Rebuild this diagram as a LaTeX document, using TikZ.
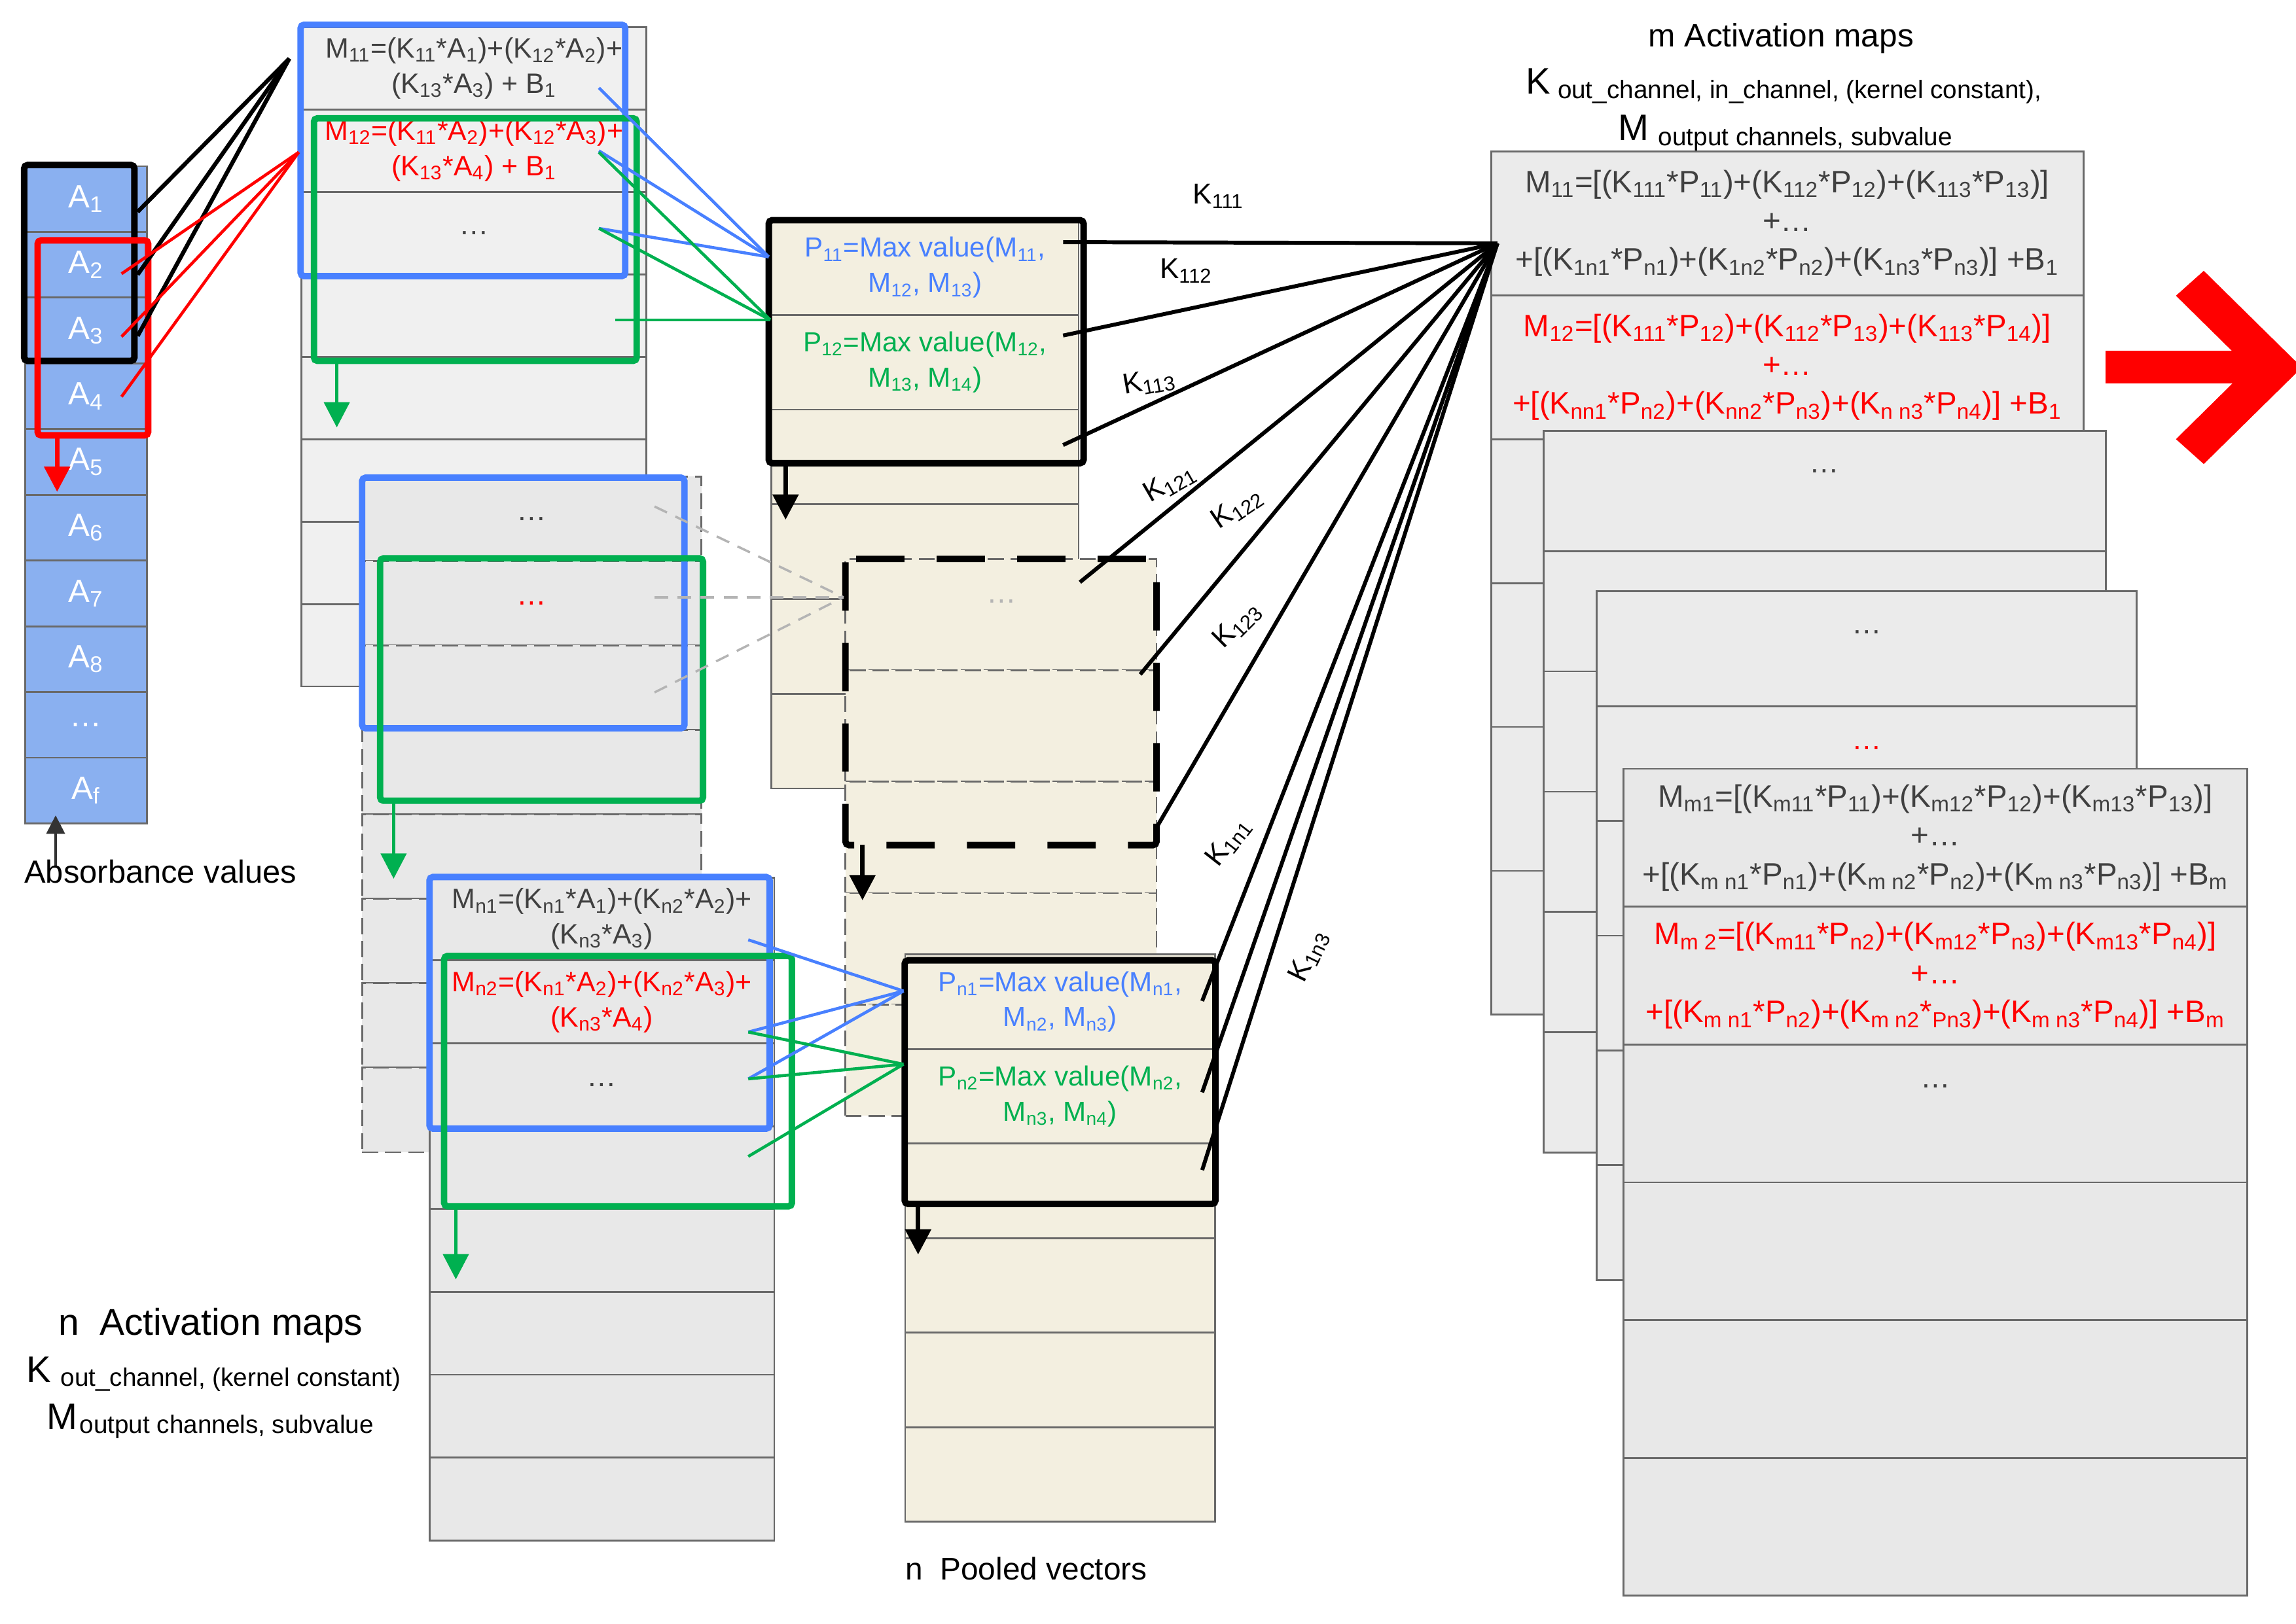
\documentclass[tikz,border=0pt]{standalone}
\usepackage{fontspec}
\setmainfont{Liberation Sans}
\usetikzlibrary{arrows.meta}
\definecolor{mapblue}{RGB}{72,128,255}
\definecolor{mapgreen}{RGB}{0,176,80}
\definecolor{mapred}{RGB}{255,0,0}
\definecolor{absfill}{RGB}{138,176,240}
\definecolor{cellline}{RGB}{105,105,105}
\definecolor{mapfill}{RGB}{240,240,240}
\definecolor{mapfilld}{RGB}{232,232,232}
\definecolor{rfill}{RGB}{235,235,235}
\definecolor{poolfill}{RGB}{243,239,224}
\definecolor{txtgray}{RGB}{64,64,64}
\definecolor{dashgray}{RGB}{180,180,180}
\newcommand{\px}{0.02237cm}
\newcommand{\lo}[1]{\textsubscript{#1}}

\begin{document}
\begin{tikzpicture}[x=\px,y=-\px,
    cell/.style 2 args={draw=cellline,line width=0.8pt,inner sep=0pt,
      minimum width=#1*\px,minimum height=#2*\px},
    dcell/.style 2 args={cell={#1}{#2},dash pattern=on 7pt off 3pt},
    abscell/.style={cell={83.3}{44.9},fill=absfill,text=white,
      font=\fontsize{14}{16}\selectfont},
    hibox/.style={line width=2.8pt,rounded corners=1.5pt},
    fan/.style={line width=1.3pt},
    kline/.style={line width=1.7pt},
    down/.style={-{Triangle[length=11pt,width=11pt]},line width=2pt},
    ftxt/.style={align=center,text=txtgray,inner sep=0pt,
      font=\fontsize{12.2}{15.3}\selectfont},
    ptxt/.style={align=center,inner sep=0pt,font=\fontsize{12}{15.3}\selectfont},
    rtxt/.style={align=center,text=txtgray,inner sep=0pt,
      font=\fontsize{13.5}{16.9}\selectfont},
    klab/.style={inner sep=0pt,font=\fontsize{12.5}{15}\selectfont},
    dots/.style={inner sep=0pt,font=\fontsize{13}{15}\selectfont,text=txtgray},
    legend/.style={anchor=base west,inner sep=0pt}]
\useasboundingbox (0,0) rectangle (1568,1109);

\foreach \i in {1,...,8}
  \node[abscell] (abs\i) at (58.75,{113.5+44.9*(\i-0.5)}) {A\lo{\i}};
\node[abscell] (absdots) at (58.75,{113.5+44.9*8.5}) {\dots};
\node[abscell] (absf) at (58.75,{113.5+44.9*9.5}) {A\lo{f}};

\foreach \i in {1,...,8}
  \node[cell={235.5}{56.3},fill=mapfill] (ma\i) at (323.75,{18.5+56.3*(\i-0.5)}) {};
\foreach \i in {1,...,8}
  \node[dcell={231.7}{57.7},fill=mapfilld] (mb\i) at (363.15,{325.5+57.7*(\i-0.5)}) {};
\foreach \i in {1,...,8}
  \node[cell={235.5}{56.6},fill=mapfilld] (mn\i) at (411.05,{599.5+56.6*(\i-0.5)}) {};

\foreach \i in {1,...,6}
  \node[cell={209.8}{64.7},fill=poolfill] (pa\i) at (631.7,{150.4+64.7*(\i-0.5)}) {};
\foreach \i in {1,...,5}
  \node[dcell={212.4}{76.1},fill=poolfill] (pb\i) at (683.6,{381.8+76.1*(\i-0.5)}) {};
\foreach \i in {1,...,6}
  \node[cell={211.7}{64.6},fill=poolfill] (pn\i) at (724.05,{652+64.6*(\i-0.5)}) {};

\foreach \i in {1,...,6}
  \node[cell={404.4}{98.3},fill=rfill] (ra\i) at (1220.6,{103.4+98.3*(\i-0.5)}) {};
\foreach \i in {1,...,6}
  \node[cell={384}{82.2},fill=rfill] (rb\i) at (1246.2,{294.2+82.2*(\i-0.5)}) {};
\foreach \i in {1,...,6}
  \node[cell={368.6}{78.4},fill=rfill] (rc\i) at (1274.7,{404+78.4*(\i-0.5)}) {};
\foreach \i in {1,...,6}
  \node[cell={425.9}{94.15},fill=mapfilld] (rd\i) at (1321.75,{525.2+94.15*(\i-0.5)}) {};

\node[ftxt] (m11) at (ma1)
  {M\lo{11}=(K\lo{11}*A\lo{1})+(K\lo{12}*A\lo{2})+\\(K\lo{13}*A\lo{3}) + B\lo{1}};
\node[ftxt,text=mapred] (m12) at (ma2)
  {M\lo{12}=(K\lo{11}*A\lo{2})+(K\lo{12}*A\lo{3})+\\(K\lo{13}*A\lo{4}) + B\lo{1}};
\node[dots] (madots) at (ma3) {\dots};
\node[dots] (mbdots) at (mb1) {\dots};
\node[dots,text=mapred] (mbred) at (mb2) {\dots};
\node[ftxt] (mn1txt) at (mn1)
  {M\lo{n1}=(K\lo{n1}*A\lo{1})+(K\lo{n2}*A\lo{2})+\\(K\lo{n3}*A\lo{3})};
\node[ftxt,text=mapred] (mn2txt) at (mn2)
  {M\lo{n2}=(K\lo{n1}*A\lo{2})+(K\lo{n2}*A\lo{3})+\\(K\lo{n3}*A\lo{4})};
\node[dots] (mndots) at (mn3) {\dots};

\node[ptxt,text=mapblue] (p11) at (pa1) {P\lo{11}=Max value(M\lo{11},\\M\lo{12}, M\lo{13})};
\node[ptxt,text=mapgreen] (p12) at (pa2) {P\lo{12}=Max value(M\lo{12},\\M\lo{13}, M\lo{14})};
\node[dots,text=dashgray] (pbdots) at (684,411) {\dots};
\node[ptxt,text=mapblue] (pn1txt) at (pn1) {P\lo{n1}=Max value(M\lo{n1},\\M\lo{n2}, M\lo{n3})};
\node[ptxt,text=mapgreen] (pn2txt) at (pn2) {P\lo{n2}=Max value(M\lo{n2},\\M\lo{n3}, M\lo{n4})};

\node[rtxt] (r11) at (ra1)
  {M\lo{11}=[(K\lo{111}*P\lo{11})+(K\lo{112}*P\lo{12})+(K\lo{113}*P\lo{13})]\\+\dots\\
   +[(K\lo{1n1}*P\lo{n1})+(K\lo{1n2}*P\lo{n2})+(K\lo{1n3}*P\lo{n3})] +B\lo{1}};
\node[rtxt,text=mapred] (r12) at (ra2)
  {M\lo{12}=[(K\lo{111}*P\lo{12})+(K\lo{112}*P\lo{13})+(K\lo{113}*P\lo{14})]\\+\dots\\
   +[(K\lo{nn1}*P\lo{n2})+(K\lo{nn2}*P\lo{n3})+(K\lo{n n3}*P\lo{n4})] +B\lo{1}};
\node[dots] (rbdots) at (1246,322) {\dots};
\node[dots] (rcdots) at (1274.7,432) {\dots};
\node[dots,text=mapred] (rcred) at (1274.7,511) {\dots};
\node[rtxt] (rm1) at (rd1)
  {M\lo{m1}=[(K\lo{m11}*P\lo{11})+(K\lo{m12}*P\lo{12})+(K\lo{m13}*P\lo{13})]\\+\dots\\
   +[(K\lo{m n1}*P\lo{n1})+(K\lo{m n2}*P\lo{n2})+(K\lo{m n3}*P\lo{n3})] +B\lo{m}};
\node[rtxt,text=mapred] (rm2) at (rd2)
  {M\lo{m 2}=[(K\lo{m11}*P\lo{n2})+(K\lo{m12}*P\lo{n3})+(K\lo{m13}*P\lo{n4})]\\+\dots\\
   +[(K\lo{m n1}*P\lo{n2})+(K\lo{m n2}*\lo{Pn3})+(K\lo{m n3}*P\lo{n4})] +B\lo{m}};
\node[dots] (rddots) at (1321.75,742) {\dots};

\draw[hibox] (16.5,112.7) rectangle (91.8,246.5);
\draw[hibox,mapred] (25.7,164.2) rectangle (101.2,297.4);
\draw[hibox,mapblue] (205.3,16.9) rectangle (427,188.6);
\draw[hibox,mapgreen] (214.4,80.8) rectangle (434.8,246.5);
\draw[hibox,mapblue] (247.3,326.3) rectangle (467.4,497.5);
\draw[hibox,mapgreen] (259.6,381.4) rectangle (480.1,547);
\draw[hibox,mapblue] (293.3,599.1) rectangle (525.6,771);
\draw[hibox,mapgreen] (303.3,653) rectangle (540.8,824.1);
\draw[hibox] (525,150.4) rectangle (740,316.4);
\draw[hibox,dash pattern=on 21pt off 14pt] (577.4,381.8) rectangle (789.8,577.3);
\draw[hibox] (617.8,656) rectangle (830.1,822.4);

\coordinate (kblk) at (197.6,40);
\coordinate (a1e) at (94,144.7);
\coordinate (a2e) at (94,187.6);
\coordinate (a3e) at (94,229.5);
\foreach \c in {a1e,a2e,a3e} \draw[fan,line width=1.8pt] (kblk) -- (\c);
\coordinate (kred) at (204,104);
\coordinate (a2r) at (83,187);
\coordinate (a3r) at (83,230);
\coordinate (a4r) at (83,271);
\foreach \c in {a2r,a3r,a4r} \draw[fan,mapred] (kred) -- (\c);

\coordinate (p11in) at (525,175.5);
\coordinate (m1b1) at (409,60);
\coordinate (m1b2) at (409,103);
\coordinate (m1b3) at (409,156);
\foreach \c in {m1b1,m1b2,m1b3} \draw[fan,mapblue] (\c) -- (p11in);
\coordinate (p12in) at (526,218.5);
\coordinate (m1g1) at (409,104);
\coordinate (m1g2) at (409,156);
\coordinate (m1g3) at (420,218.5);
\foreach \c in {m1g1,m1g2,m1g3} \draw[fan,mapgreen] (\c) -- (p12in);

\coordinate (p2in) at (576,408);
\coordinate (m2d1) at (447,346);
\coordinate (m2d2) at (447,408);
\coordinate (m2d3) at (447,473);
\foreach \c in {m2d1,m2d2,m2d3}
  \draw[dashgray,line width=1pt,dash pattern=on 6pt off 4pt] (\c) -- (p2in);

\coordinate (pn1in) at (617,677);
\coordinate (mnb1) at (511,642);
\coordinate (mnb2) at (511,705);
\coordinate (mnb3) at (511,737);
\foreach \c in {mnb1,mnb2,mnb3} \draw[fan,mapblue] (\c) -- (pn1in);
\coordinate (pn2in) at (617,727);
\coordinate (mng1) at (511,705);
\coordinate (mng2) at (511,737);
\coordinate (mng3) at (511,790);
\foreach \c in {mng1,mng2,mng3} \draw[fan,mapgreen] (\c) -- (pn2in);

\coordinate (r11in) at (1022.6,166.2);
\coordinate (k111) at (726,165.4);
\coordinate (k112) at (726,229.2);
\coordinate (k113) at (726,304);
\coordinate (k121) at (737.5,397.7);
\coordinate (k122) at (778.7,460.7);
\coordinate (k123) at (791,563.3);
\coordinate (k1n1) at (821,683.8);
\coordinate (k1n2) at (821,746.2);
\coordinate (k1n3) at (821,799.3);
\foreach \c in {k111,k112,k113,k121,k122,k123,k1n1,k1n2,k1n3}
  \draw[kline] (\c) -- (r11in);

\node[klab] (lk111) at (832,134) {K\lo{111}};
\node[klab] (lk112) at (810,185) {K\lo{112}};
\node[klab,rotate=10] (lk113) at (785,261) {K\lo{113}};
\node[klab,rotate=30] (lk121) at (799,330) {K\lo{121}};
\node[klab,rotate=34] (lk122) at (845,347) {K\lo{122}};
\node[klab,rotate=45] (lk123) at (845,427) {K\lo{123}};
\node[klab,rotate=52] (lk1n1) at (839,575) {K\lo{1n1}};
\node[klab,rotate=64] (lk1n3) at (894,653) {K\lo{1n3}};

\coordinate (absarr1) at (39,299);
\coordinate (absarr2) at (39,336);
\draw[down,mapred] (absarr1) -- (absarr2);
\coordinate (maarr1) at (230,247);
\coordinate (maarr2) at (230,292);
\draw[down,mapgreen,line width=1.6pt] (maarr1) -- (maarr2);
\coordinate (mbarr1) at (268.8,548.4);
\coordinate (mbarr2) at (268.8,600.3);
\draw[down,mapgreen,line width=1.6pt] (mbarr1) -- (mbarr2);
\coordinate (mnarr1) at (311.3,826);
\coordinate (mnarr2) at (311.3,874);
\draw[down,mapgreen,line width=1.6pt] (mnarr1) -- (mnarr2);
\coordinate (paarr1) at (536.5,316);
\coordinate (paarr2) at (536.5,355);
\draw[down] (paarr1) -- (paarr2);
\coordinate (pbarr1) at (589,577);
\coordinate (pbarr2) at (589,615);
\draw[down] (pbarr1) -- (pbarr2);
\coordinate (pnarr1) at (627,822);
\coordinate (pnarr2) at (627,857);
\draw[down] (pnarr1) -- (pnarr2);
\coordinate (valarr1) at (38,592);
\coordinate (valarr2) at (38,557);
\draw[-{Triangle[length=8pt,width=8pt]},line width=1pt,black!80] (valarr1) -- (valarr2);

\fill[mapred] (1438,239.5) rectangle (1536,262);
\fill[mapred] (1505,185) -- (1572,251) -- (1505,317) -- (1486,300)
  -- (1535.7,251) -- (1486,202) -- cycle;

\node[legend,font=\fontsize{13.9}{16}\selectfont] (absval) at (16.4,603.4) {Absorbance values};
\node[legend,font=\fontsize{13.6}{16}\selectfont] (poolval) at (618,1079) {n~ Pooled vectors};
\node[legend,font=\fontsize{16.2}{18}\selectfont] (ltitle) at (39.5,912.1) {n~ Activation maps};
\node[legend,font=\fontsize{16}{18}\selectfont] (lkey) at (18,944.3)
  {K\hspace{4pt}\raisebox{-1.6pt}{\fontsize{11}{13}\selectfont out\_channel, (kernel constant)}};
\node[legend,font=\fontsize{16}{18}\selectfont] (lmkey) at (31.5,976.6)
  {M\hspace{1pt}\raisebox{-1.6pt}{\fontsize{11}{13}\selectfont output channels, subvalue}};
\node[anchor=base,inner sep=0pt,font=\fontsize{14.1}{16}\selectfont] (rtitle) at (1216.4,31.9)
  {m Activation maps};
\node[legend,font=\fontsize{16}{18}\selectfont] (rkey) at (1042,64)
  {K\hspace{3pt}\raisebox{-2pt}{\fontsize{11}{13}\selectfont out\_channel, in\_channel, (kernel constant),}};
\node[legend,font=\fontsize{16}{18}\selectfont] (rmkey) at (1105,95.8)
  {M\hspace{4pt}\raisebox{-2.2pt}{\fontsize{11}{13}\selectfont output channels, subvalue}};
\end{tikzpicture}
\end{document}
